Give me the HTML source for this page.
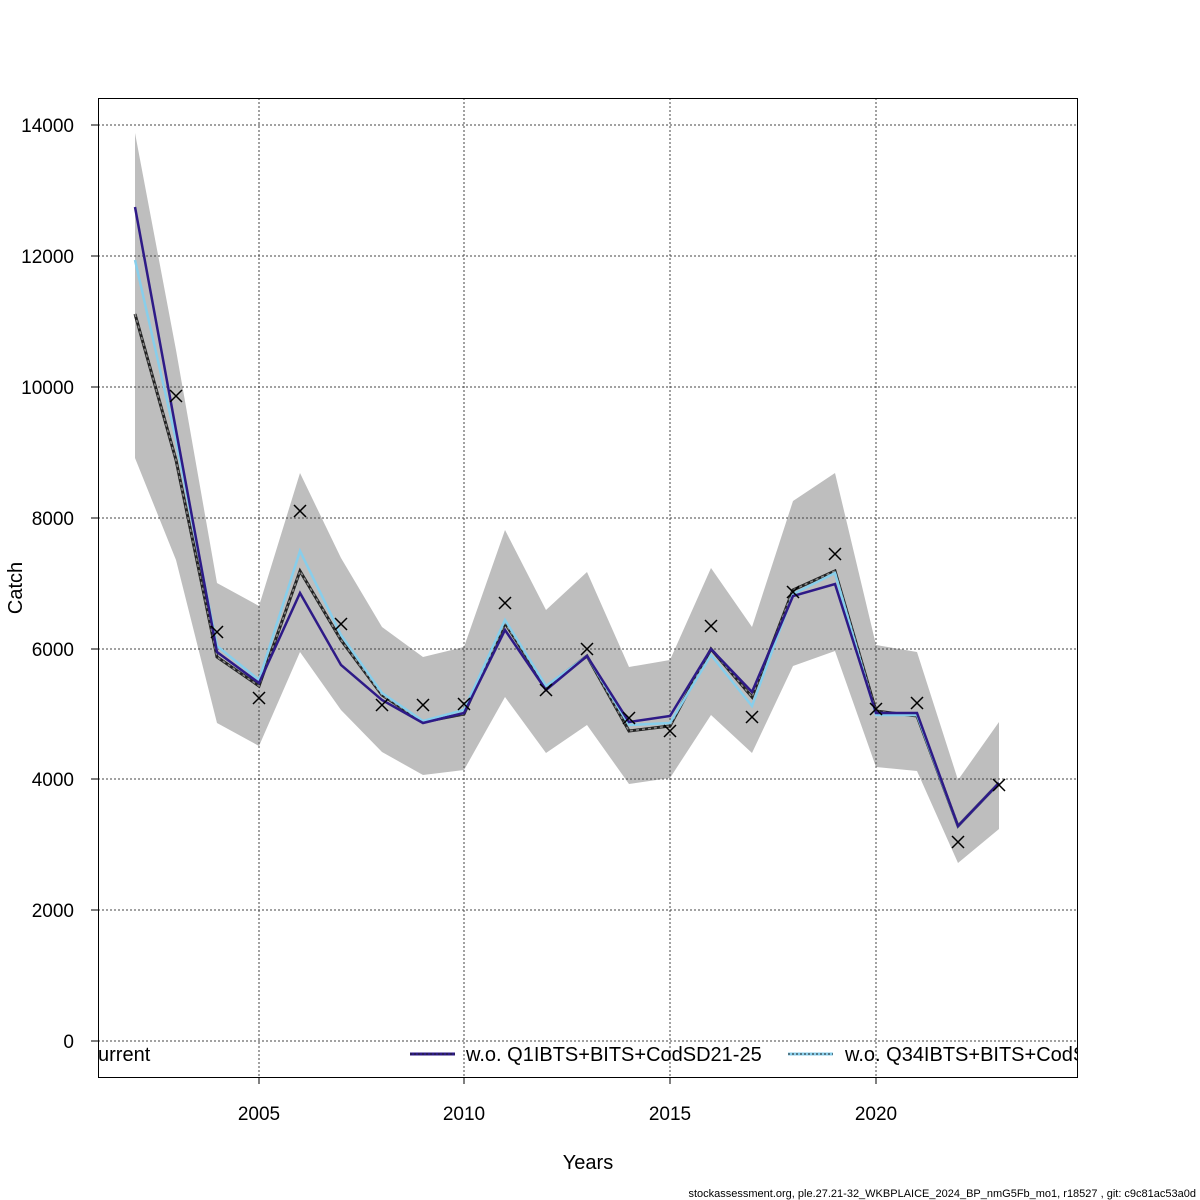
<!DOCTYPE html>
<html><head><style>body{margin:0;background:#fff}svg{display:block}</style></head><body>
<svg width="1200" height="1200" xmlns="http://www.w3.org/2000/svg" font-family="Liberation Sans, sans-serif">
<rect width="1200" height="1200" fill="#fff"/>
<polygon fill="#bebebe" points="135,133 176,350 217,583 259,606 300,473 341,558 382,627 423,657 464,647 505,530 546,610 587,572 629,667 670,660 711,568 752,627 793,501 835,473 876,645 917,652 958,780 999,722 999,829 958,863 917,771 876,767 835,651 793,666 752,753 711,715 670,778 629,784 587,725 546,753 505,697 464,770 423,775 382,752 341,710 300,652 259,746 217,723 176,560 135,458"/>
<g stroke="#444" stroke-width="1" stroke-dasharray="2,2">
<line x1="259" y1="98" x2="259" y2="1077"/><line x1="464" y1="98" x2="464" y2="1077"/><line x1="670" y1="98" x2="670" y2="1077"/><line x1="876" y1="98" x2="876" y2="1077"/>
<line x1="98" y1="125" x2="1077" y2="125"/><line x1="98" y1="256" x2="1077" y2="256"/><line x1="98" y1="387" x2="1077" y2="387"/><line x1="98" y1="518" x2="1077" y2="518"/><line x1="98" y1="649" x2="1077" y2="649"/><line x1="98" y1="779" x2="1077" y2="779"/><line x1="98" y1="910" x2="1077" y2="910"/><line x1="98" y1="1041" x2="1077" y2="1041"/>
</g>
<polyline fill="none" stroke="#222" stroke-width="3" points="135,314 176,460 217,657 259,686 300,571 341,640 382,695 423,722 464,714 505,623 546,687 587,656 629,731 670,726 711,649 752,697 793,590 835,571 876,711 917,716 958,826 999,783"/>
<polyline fill="none" stroke="#888" stroke-width="1.5" stroke-dasharray="3,3" points="135,314 176,460 217,657 259,686 300,571 341,640 382,695 423,722 464,714 505,623 546,687 587,656 629,731 670,726 711,649 752,697 793,590 835,571 876,711 917,716 958,826 999,783"/>
<polyline fill="none" stroke="#87ceeb" stroke-width="2.5" points="135,260 176,440 217,646 259,680 300,551 341,635 382,693 423,721 464,710 505,620 546,686 587,656 629,725 670,723 711,655 752,706 793,594 835,573 876,715 917,715 958,826 999,783"/>
<polyline fill="none" stroke="#2e1a87" stroke-width="2.5" points="135,207 176,430 217,652 259,683 300,593 341,665 382,700 423,723 464,713 505,630 546,690 587,656 629,722 670,716 711,649 752,692 793,596 835,584 876,713 917,713 958,826 999,783"/>
<g stroke="#000" stroke-width="1.5">
<path d="M170,390l12,12M182,390l-12,12 M211,626l12,12M223,626l-12,12 M253,692l12,12M265,692l-12,12 M294,505l12,12M306,505l-12,12 M335,618l12,12M347,618l-12,12 M376,699l12,12M388,699l-12,12 M417,699l12,12M429,699l-12,12 M458,698l12,12M470,698l-12,12 M499,597l12,12M511,597l-12,12 M540,684l12,12M552,684l-12,12 M581,643l12,12M593,643l-12,12 M623,712l12,12M635,712l-12,12 M664,725l12,12M676,725l-12,12 M705,620l12,12M717,620l-12,12 M746,711l12,12M758,711l-12,12 M787,586l12,12M799,586l-12,12 M829,548l12,12M841,548l-12,12 M870,703l12,12M882,703l-12,12 M911,697l12,12M923,697l-12,12 M952,836l12,12M964,836l-12,12 M993,779l12,12M1005,779l-12,12"/>
</g>
<rect x="98.5" y="98.5" width="979" height="979" fill="none" stroke="#000"/>
<g fill="#000" font-size="20">
<text x="98" y="1061" text-anchor="start">urrent</text>
<line x1="410" y1="1054" x2="455" y2="1054" stroke="#2e1a87" stroke-width="3"/>
<line x1="410" y1="1054" x2="455" y2="1054" stroke="#222" stroke-width="1" stroke-dasharray="2,2"/>
<text x="466" y="1061">w.o. Q1IBTS+BITS+CodSD21-25</text>
<line x1="788" y1="1054" x2="833" y2="1054" stroke="#87ceeb" stroke-width="3"/>
<line x1="788" y1="1054" x2="833" y2="1054" stroke="#222" stroke-width="1" stroke-dasharray="2,2"/>
<svg x="0" y="0" width="1077" height="1200" overflow="hidden"><text x="845" y="1061">w.o. Q34IBTS+BITS+CodSD21-25</text></svg>
</g>
<g stroke="#000"><line x1="259" y1="1077" x2="259" y2="1084"/><line x1="464" y1="1077" x2="464" y2="1084"/><line x1="670" y1="1077" x2="670" y2="1084"/><line x1="876" y1="1077" x2="876" y2="1084"/>
<line x1="91" y1="125" x2="98" y2="125"/><line x1="91" y1="256" x2="98" y2="256"/><line x1="91" y1="387" x2="98" y2="387"/><line x1="91" y1="518" x2="98" y2="518"/><line x1="91" y1="649" x2="98" y2="649"/><line x1="91" y1="779" x2="98" y2="779"/><line x1="91" y1="910" x2="98" y2="910"/><line x1="91" y1="1041" x2="98" y2="1041"/></g>
<g font-size="19" fill="#000" text-anchor="middle">
<text x="259" y="1120">2005</text><text x="464" y="1120">2010</text><text x="670" y="1120">2015</text><text x="876" y="1120">2020</text>
<text x="588" y="1169" font-size="20">Years</text>
</g>
<g font-size="19" fill="#000" text-anchor="end">
<text x="74" y="132">14000</text><text x="74" y="263">12000</text><text x="74" y="394">10000</text><text x="74" y="525">8000</text><text x="74" y="656">6000</text><text x="74" y="786">4000</text><text x="74" y="917">2000</text><text x="74" y="1048">0</text>
</g>
<text x="22" y="588" font-size="20" text-anchor="middle" transform="rotate(-90 22 588)">Catch</text>
<text x="1196" y="1197" font-size="11" text-anchor="end">stockassessment.org, ple.27.21-32_WKBPLAICE_2024_BP_nmG5Fb_mo1, r18527 , git: c9c81ac53a0d</text>
</svg>
</body></html>
